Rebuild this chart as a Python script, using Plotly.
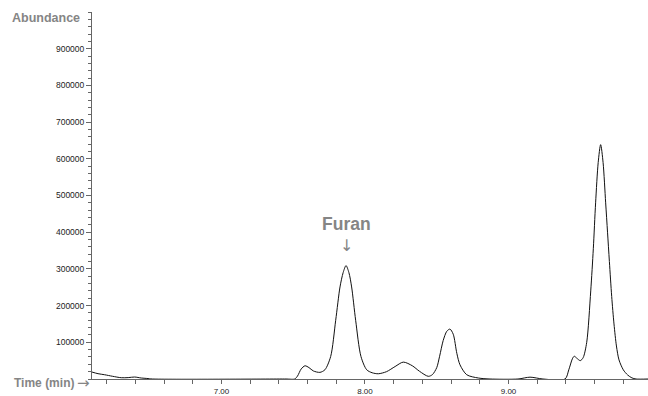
import plotly.graph_objects as go

# Chromatogram readings (time in minutes, abundance counts)
time_min = [
    6.098, 6.14, 6.186, 6.24, 6.302, 6.35, 6.395, 6.441, 6.48, 6.52,
    7.45, 7.51, 7.53, 7.555, 7.582, 7.61, 7.64, 7.686, 7.721, 7.761,
    7.796, 7.826, 7.848, 7.868, 7.888, 7.907, 7.935, 7.972, 8.012, 8.05,
    8.093, 8.15, 8.21, 8.267, 8.33, 8.38, 8.441, 8.47, 8.50, 8.52,
    8.545, 8.57, 8.592, 8.615, 8.64, 8.662, 8.709, 8.79, 8.871,
    9.066, 9.15, 9.24,
    9.394, 9.42, 9.445, 9.458, 9.475, 9.50, 9.52, 9.545, 9.573, 9.591,
    9.607, 9.625, 9.642, 9.659, 9.677, 9.690, 9.703, 9.719, 9.735, 9.752,
    9.77, 9.80, 9.83, 9.86, 9.889, 9.972,
]
abundance = [
    18900, 14500, 11600, 7500, 3500, 3800, 5400, 2700, 1500, 0,
    0, 0, 8000, 27000, 36000, 31000, 22000, 18100, 25200, 61400,
    160000, 250800, 290000, 309000, 290000, 250800, 160000, 61400, 25200, 17000,
    14300, 20000, 34000, 46000, 36000, 21000, 7300, 12000, 31000, 62000,
    105000, 130000, 136000, 122000, 70000, 38700, 11600, 2700, 0,
    0, 5000, 0,
    0, 25000, 55000, 62000, 57000, 50000, 58000, 100000, 240000, 355000,
    480000, 590000, 638500, 590000, 480000, 400000, 320000, 225000, 150000, 90000,
    52000, 25000, 11000, 3000, 0, 0,
]

x_tick_vals = [7, 8, 9]
x_tick_text = ["7.00", "8.00", "9.00"]
y_tick_vals = [100000, 200000, 300000, 400000, 500000, 600000, 700000, 800000, 900000]
y_tick_text = ["100000", "200000", "300000", "400000", "500000", "600000", "700000", "800000", "900000"]

peak_label = "Furan"
peak_time = 7.868

FONT = "Arial, Liberation Sans, sans-serif"
ARROW_FONT = "DejaVu Sans, sans-serif"
GRAY = "#858585"
AXIS = "#666666"

fig = go.Figure()
fig.add_trace(go.Scatter(
    x=time_min, y=abundance, mode="lines",
    line=dict(color="#111111", width=1, shape="spline", smoothing=0.8),
    hoverinfo="skip", showlegend=False,
))

fig.update_layout(
    width=648, height=396,
    margin=dict(l=92, r=0, t=12, b=15),
    paper_bgcolor="white", plot_bgcolor="white",
    font=dict(family=FONT, color="#222222"),
    xaxis=dict(
        range=[6.098, 9.972], showgrid=False, zeroline=False,
        showline=True, linecolor=AXIS, linewidth=1,
        tickmode="array", tickvals=x_tick_vals, ticktext=x_tick_text,
        ticks="outside", ticklen=4, tickcolor=AXIS, tickwidth=1,
        tickfont=dict(size=8, family=FONT, color="#222222"),
        minor=dict(dtick=0.2, tick0=0, ticks="outside", ticklen=4, tickcolor=AXIS, showgrid=False),
        layer="above traces", fixedrange=True,
    ),
    yaxis=dict(
        range=[0, 1000000], showgrid=False, zeroline=False,
        showline=True, linecolor=AXIS, linewidth=1,
        tickmode="array", tickvals=y_tick_vals, ticktext=y_tick_text,
        ticks="outside", ticklen=5, tickcolor=AXIS, tickwidth=1,
        tickfont=dict(size=8.5, family=FONT, color="#222222"),
        minor=dict(dtick=20000, tick0=0, ticks="outside", ticklen=3, tickcolor=AXIS, showgrid=False),
        layer="above traces", fixedrange=True,
    ),
    annotations=[
        dict(text="<b>Abundance</b>", xref="paper", yref="paper",
             x=(10 - 92) / 556, y=(381 - 18) / 369, xanchor="left", yanchor="middle",
             showarrow=False, font=dict(size=12.5, color=GRAY, family=FONT)),
        dict(text="<b>Time (min)</b>", xref="paper", yref="paper",
             x=(12 - 92) / 556, y=(381 - 385) / 369, xanchor="left", yanchor="middle",
             showarrow=False, font=dict(size=12, color=GRAY, family=FONT)),
        dict(text="→", xref="paper", yref="paper",
             x=(75 - 92) / 556, y=(381 - 385) / 369, xanchor="left", yanchor="middle",
             showarrow=False, font=dict(size=15, color=GRAY, family=ARROW_FONT)),
        dict(text="<b>" + peak_label + "</b>", xref="x", yref="paper",
             x=peak_time, y=(381 - 225) / 369, xanchor="center", yanchor="middle",
             showarrow=False, font=dict(size=17.5, color=GRAY, family=FONT)),
        dict(text="↓", xref="x", yref="paper",
             x=peak_time, y=(381 - 247) / 369, xanchor="center", yanchor="middle",
             showarrow=False, font=dict(size=16, color=GRAY, family=ARROW_FONT)),
    ],
)

fig.write_html("out.html")
